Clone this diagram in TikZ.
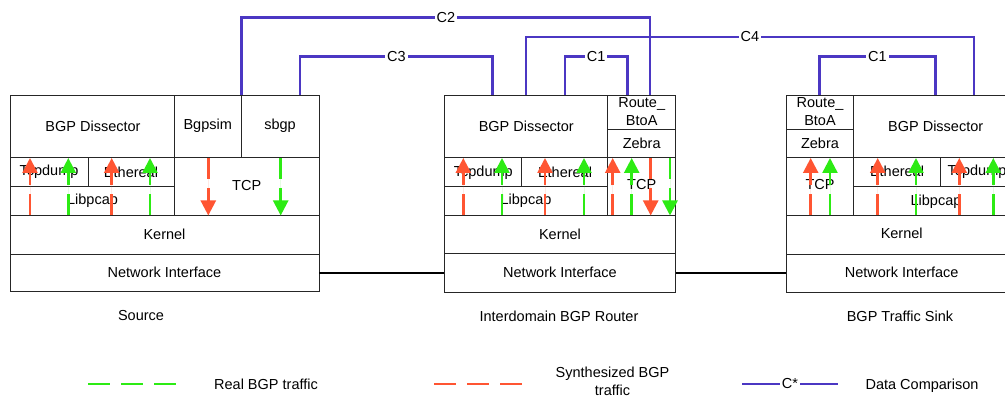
\documentclass[tikz,border=0pt]{standalone}
\usepackage{fontspec}
\setmainfont{Liberation Sans}
\usetikzlibrary{arrows.meta}
\definecolor{realgreen}{RGB}{45,235,20}
\definecolor{synred}{RGB}{255,85,50}
\definecolor{cmpblue}{RGB}{75,55,195}
\begin{document}
\begin{tikzpicture}[x=1pt, y=-1pt,
	every node/.style={font=\fontsize{14.5}{18}\selectfont, inner sep=1pt},
	layer/.style={draw=black!85, line width=.9pt},
	flow/.style={line width=2.5pt, dash pattern=on 21pt off 9pt, -{Triangle[width=15pt,length=15pt]}},
	realflow/.style={flow, draw=realgreen, fill=realgreen},
	synflow/.style={flow, draw=synred, fill=synred},
	cmp/.style={draw=cmpblue, line width=2.6pt},
	clabel/.style={fill=white, inner sep=2pt},
	net/.style={draw=black, line width=2.2pt}]
	\useasboundingbox (0,0) rectangle (1005,398);

	% source host
		\draw[layer] (10,95.5) rectangle (319,291.7);
		\draw[layer] (10,157.7) -- (319,157.7);
		\draw[layer] (10,186.7) -- (174.3,186.7);
		\draw[layer] (10,215.7) -- (319,215.7);
		\draw[layer] (10,254) -- (319,254);
		\draw[layer] (174.3,95.5) -- (174.3,215.7);
		\draw[layer] (241.7,95.5) -- (241.7,157.7);
		\draw[layer] (88.3,157.7) -- (88.3,186.7);
			\node (srcDis) at (93,126){BGP Dissector};
			\node (srcSim) at (207.7,126){Bgpsim};
			\node (srcSbgp) at (280,126){sbgp};
			\node (srcDump) at (49,172){Tcpdump};
			\node (srcEth) at (131,172){Ethereal};
			\node (srcPcap) at (92.5,201){Libpcap};
			\node (srcTcp) at (246.7,186){TCP};
			\node (srcKer) at (164.5,234){Kernel};
			\node (srcNI) at (164.5,272.7){Network Interface};
		\node (srcName) at (141,316){Source};

	% interdomain router
		\draw[layer] (444,95.5) rectangle (675.7,292);
		\draw[layer] (444,157.7) -- (675.7,157.7);
		\draw[layer] (607.7,129) -- (675.7,129);
		\draw[layer] (444,186) -- (607.7,186);
		\draw[layer] (444,215) -- (675.7,215);
		\draw[layer] (444,253.5) -- (675.7,253.5);
		\draw[layer] (607.7,95.5) -- (607.7,215);
		\draw[layer] (521.7,157.7) -- (521.7,186);
			\node (rtrDis) at (526.3,126){BGP Dissector};
			\node[align=center] (rtrRoute) at (641.7,112){Route\_\\BtoA};
			\node (rtrZeb) at (641.7,143.3){Zebra};
			\node (rtrDump) at (483.3,172.3){Tcpdump};
			\node (rtrEth) at (565,172.3){Ethereal};
			\node (rtrPcap) at (526,201){Libpcap};
			\node (rtrTcp) at (641.7,185){TCP};
			\node (rtrKer) at (560,234.3){Kernel};
			\node (rtrNI) at (560,272.7){Network Interface};
		\node (rtrName) at (559,316){Interdomain BGP Router};

	% traffic sink
		\draw[layer] (786,95.5) rectangle (1018,292.3);
		\draw[layer] (786,129) -- (853.3,129);
		\draw[layer] (786,157.7) -- (1018,157.7);
		\draw[layer] (853.3,186) -- (1018,186);
		\draw[layer] (786,215.3) -- (1018,215.3);
		\draw[layer] (786,254) -- (1018,254);
		\draw[layer] (853.3,95.5) -- (853.3,215.3);
		\draw[layer] (940.7,157.7) -- (940.7,186);
			\node[align=center] (snkRoute) at (820,112){Route\_\\BtoA};
			\node (snkZeb) at (820,143.3){Zebra};
			\node (snkTcp) at (820,185){TCP};
			\node (snkDis) at (935.7,126.7){BGP Dissector};
			\node (snkEth) at (897,171.7){Ethereal};
			\node (snkDump) at (977,171.7){Tcpdump};
			\node (snkPcap) at (936,201.7){Libpcap};
			\node (snkKer) at (901.7,233.5){Kernel};
			\node (snkNI) at (901.7,272.5){Network Interface};
		\node (snkName) at (900,316){BGP Traffic Sink};

	% links between hosts
	\coordinate (srcR) at (319,272.7);
	\coordinate (rtrL) at (444,272.7);
	\coordinate (rtrR) at (675.7,272.7);
	\coordinate (snkL) at (786,272.7);
	\draw[net] (srcR) -- (rtrL);
	\draw[net] (rtrR) -- (snkL);

	% data comparisons
	\coordinate (barHi) at (0,17.3);
	\coordinate (barMid) at (0,37);
	\coordinate (barLo) at (0,56.7);
	\coordinate (srcC2) at (241.7,95.5);
	\coordinate (srcC3) at (300,95.5);
	\coordinate (rtrC3) at (492.7,95.5);
	\coordinate (rtrC4) at (526,95.5);
	\coordinate (rtrC1a) at (565,95.5);
	\coordinate (rtrC1b) at (627.3,95.5);
	\coordinate (rtrC2) at (650,95.5);
	\coordinate (snkC1a) at (819.3,95.5);
	\coordinate (snkC1b) at (935.7,95.5);
	\coordinate (snkC4) at (974,95.5);
	\draw[cmp] (srcC2) -- (srcC2 |- barHi) -| node[pos=.25, clabel]{C2} (rtrC2);
	\draw[cmp] (rtrC4) -- (rtrC4 |- barMid) -| node[pos=.25, clabel]{C4} (snkC4);
	\draw[cmp] (srcC3) -- (srcC3 |- barLo) -| node[pos=.25, clabel]{C3} (rtrC3);
	\draw[cmp] (rtrC1a) -- (rtrC1a |- barLo) -| node[pos=.25, clabel]{C1} (rtrC1b);
	\draw[cmp] (snkC1a) -- (snkC1a |- barLo) -| node[pos=.25, clabel]{C1} (snkC1b);

	% traffic through the stacks
	\foreach \x in {30,111.7,463.3,545,612.7,810.7,877.7,959.3}
		\draw[synflow] (\x,215.5) -- (\x,158);
	\foreach \x in {68.3,150,502,584,631.7,830,916,993.3}
		\draw[realflow] (\x,215.5) -- (\x,158);
	\foreach \x in {208.3,650.7}
		\draw[synflow] (\x,158) -- (\x,215.5);
	\foreach \x in {280.7,670}
		\draw[realflow] (\x,158) -- (\x,215.5);

	% legend
	\coordinate (lgRealA) at (88,384);
	\coordinate (lgRealB) at (176,384);
	\coordinate (lgSynA) at (434,384);
	\coordinate (lgSynB) at (522,384);
	\coordinate (lgCmpA) at (742,384);
	\coordinate (lgCmpB) at (838,384);
	\draw[draw=realgreen, line width=2.5pt, dash pattern=on 22pt off 11pt] (lgRealA) -- (lgRealB);
	\draw[draw=synred, line width=2.5pt, dash pattern=on 22pt off 11pt] (lgSynA) -- (lgSynB);
	\draw[cmp] (lgCmpA) -- node[clabel]{C*} (lgCmpB);
		\node (lgReal) at (266,384){Real BGP traffic};
		\node[align=center, font=\fontsize{14.5}{18}\selectfont] (lgSyn) at (612.5,381){Synthesized BGP\\traffic};
		\node (lgCmp) at (922,386){Data Comparison};
\end{tikzpicture}
\end{document}
